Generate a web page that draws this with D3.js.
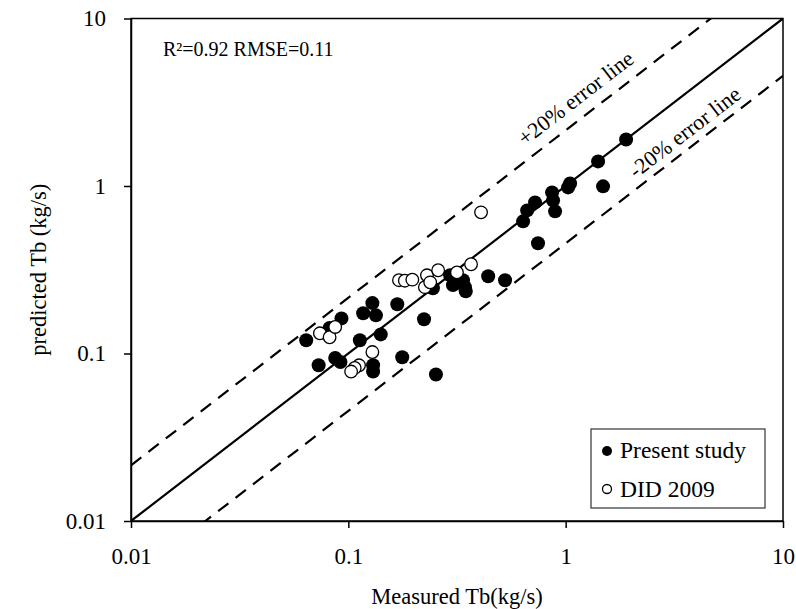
<!DOCTYPE html>
<html>
<head>
<meta charset="utf-8">
<script src="https://cdn.jsdelivr.net/npm/d3@7"></script>
<style>
body { margin: 0; background: #fff; }
text { font-family: "Liberation Serif", "Times New Roman", serif; fill: #000; }
</style>
</head>
<body>
<div id="chart"></div>
<script>
// Width and height
var w = 796;
var h = 609;

// Present study (measured, predicted)
var presentX = [0.064, 0.073, 0.087, 0.092, 0.082, 0.093, 0.113, 0.141, 0.129, 0.117, 0.134, 0.168,
                0.223, 0.130, 0.130, 0.177, 0.253, 0.245, 0.294, 0.303, 0.337, 0.344, 0.347, 0.440,
                0.526, 0.746, 0.637, 0.665, 0.723, 0.866, 0.875, 0.894, 1.048, 1.026, 1.410, 1.897, 1.486];
var presentY = [0.120, 0.085, 0.094, 0.089, 0.142, 0.162, 0.120, 0.130, 0.200, 0.174, 0.169, 0.197,
                0.160, 0.085, 0.078, 0.095, 0.075, 0.245, 0.293, 0.256, 0.274, 0.249, 0.235, 0.289,
                0.274, 0.455, 0.615, 0.715, 0.798, 0.916, 0.821, 0.706, 1.036, 0.981, 1.402, 1.896, 0.995];

// DID 2009 (measured, predicted)
var didX = [0.074, 0.082, 0.087, 0.129, 0.112, 0.107, 0.103, 0.171, 0.182, 0.197, 0.230, 0.259,
            0.225, 0.238, 0.316, 0.367, 0.408];
var didY = [0.132, 0.125, 0.144, 0.102, 0.085, 0.082, 0.078, 0.274, 0.272, 0.276, 0.293, 0.314,
            0.249, 0.266, 0.305, 0.341, 0.696];

// axis ticks
var tickValues = [0.01, 0.1, 1, 10];
var tickLabels = ["0.01", "0.1", "1", "10"];

// error band factors (upper / lower dashed lines)
var upperFactor = 2.15;
var lowerFactor = 2.2;

var plot = { left: 131, right: 783, top: 18.5, bottom: 521 };

var x = d3.scaleLog().domain([0.01, 10]).range([plot.left, plot.right]);
var y = d3.scaleLog().domain([0.01, 10]).range([plot.bottom, plot.top]);

var svg = d3.select("#chart")
	.append("svg")
	.attr("width", w)
	.attr("height", h);

svg.append("defs").append("clipPath")
	.attr("id", "clip")
	.append("rect")
	.attr("x", plot.left)
	.attr("y", plot.top)
	.attr("width", plot.right - plot.left)
	.attr("height", plot.bottom - plot.top);

// reference lines
var lineX = [0.01, 10];
var line = d3.line()
	.x(function(d) { return x(d[0]); })
	.y(function(d) { return y(d[1]); });

var lines = svg.append("g").attr("clip-path", "url(#clip)");

lines.append("path")
	.attr("d", line(lineX.map(function(v) { return [v, v]; })))
	.attr("fill", "none")
	.attr("stroke", "#000")
	.attr("stroke-width", 2.2);

lines.append("path")
	.attr("d", line(lineX.map(function(v) { return [v, v * upperFactor]; })))
	.attr("fill", "none")
	.attr("stroke", "#000")
	.attr("stroke-width", 2.2)
	.attr("stroke-dasharray", "13,9");

lines.append("path")
	.attr("d", line(lineX.map(function(v) { return [v, v / lowerFactor]; })))
	.attr("fill", "none")
	.attr("stroke", "#000")
	.attr("stroke-width", 2.2)
	.attr("stroke-dasharray", "13,9");

// frame
svg.append("rect")
	.attr("x", plot.left)
	.attr("y", plot.top)
	.attr("width", plot.right - plot.left)
	.attr("height", plot.bottom - plot.top)
	.attr("fill", "none")
	.attr("stroke", "#000")
	.attr("stroke-width", 1.5);

// axes
var xAxis = d3.axisBottom(x)
	.tickValues(tickValues)
	.tickFormat(function(d, i) { return tickLabels[i]; })
	.tickSizeInner(7)
	.tickSizeOuter(0)
	.tickPadding(20);

var yAxis = d3.axisLeft(y)
	.tickValues(tickValues)
	.tickFormat(function(d, i) { return tickLabels[i]; })
	.tickSizeInner(7)
	.tickSizeOuter(0)
	.tickPadding(18);

var gx = svg.append("g")
	.attr("transform", "translate(0," + plot.bottom + ")")
	.call(xAxis);
var gy = svg.append("g")
	.attr("transform", "translate(" + plot.left + ",0)")
	.call(yAxis);

[gx, gy].forEach(function(g) {
	g.select(".domain").attr("stroke", "#000").attr("stroke-width", 1.5);
	g.selectAll(".tick line").attr("stroke", "#000").attr("stroke-width", 1.5);
	g.selectAll(".tick text")
		.style("font-family", '"Liberation Serif", "Times New Roman", serif')
		.style("font-size", "23px")
		.attr("fill", "#000");
});

// data points
svg.selectAll(".present")
	.data(presentX.map(function(v, i) { return [v, presentY[i]]; }))
	.enter()
	.append("circle")
	.attr("class", "present")
	.attr("cx", function(d) { return x(d[0]); })
	.attr("cy", function(d) { return y(d[1]); })
	.attr("r", 7)
	.attr("fill", "#000");

svg.selectAll(".did")
	.data(didX.map(function(v, i) { return [v, didY[i]]; }))
	.enter()
	.append("circle")
	.attr("class", "did")
	.attr("cx", function(d) { return x(d[0]); })
	.attr("cy", function(d) { return y(d[1]); })
	.attr("r", 6.3)
	.attr("fill", "#fff")
	.attr("stroke", "#000")
	.attr("stroke-width", 1.3);

// annotations
svg.append("text")
	.attr("x", 163)
	.attr("y", 56)
	.style("font-size", "20px")
	.text("R\u00b2=0.92 RMSE=0.11");

var angleRad = Math.atan((y(0.1) - y(1)) / (x(1) - x(0.1)));
var angle = -angleRad * 180 / Math.PI;

// place a label along a line y = k*x, at measured value xv, offset perpendicular (px, up-left)
function lineLabel(xv, k, offset, label) {
	var px = x(xv) - offset * Math.sin(angleRad);
	var py = y(xv * k) - offset * Math.cos(angleRad);
	svg.append("text")
		.attr("transform", "translate(" + px + "," + py + ") rotate(" + angle + ")")
		.attr("text-anchor", "middle")
		.style("font-size", "22px")
		.text(label);
}

lineLabel(1.26, upperFactor, 12, "+20% error line");
lineLabel(3.9, 1 / lowerFactor, 8, "-20% error line");

// axis titles
svg.append("text")
	.attr("x", (plot.left + plot.right) / 2)
	.attr("y", 604)
	.attr("text-anchor", "middle")
	.style("font-size", "22.5px")
	.text("Measured Tb(kg/s)");

svg.append("text")
	.attr("transform", "translate(46," + ((plot.top + plot.bottom) / 2) + ") rotate(-90)")
	.attr("text-anchor", "middle")
	.style("font-size", "22.5px")
	.text("predicted Tb (kg/s)");

// legend
var legend = svg.append("g");
legend.append("rect")
	.attr("x", 591)
	.attr("y", 429)
	.attr("width", 174)
	.attr("height", 79)
	.attr("fill", "#fff")
	.attr("stroke", "#333")
	.attr("stroke-width", 1.2);

legend.append("circle").attr("cx", 607).attr("cy", 451).attr("r", 5).attr("fill", "#000");
legend.append("text").attr("x", 620).attr("y", 458).style("font-size", "23.5px").text("Present study");
legend.append("circle").attr("cx", 607).attr("cy", 489).attr("r", 4.5)
	.attr("fill", "#fff").attr("stroke", "#000").attr("stroke-width", 1.3);
legend.append("text").attr("x", 620).attr("y", 497).style("font-size", "23.5px").text("DID 2009");
</script>
</body>
</html>
